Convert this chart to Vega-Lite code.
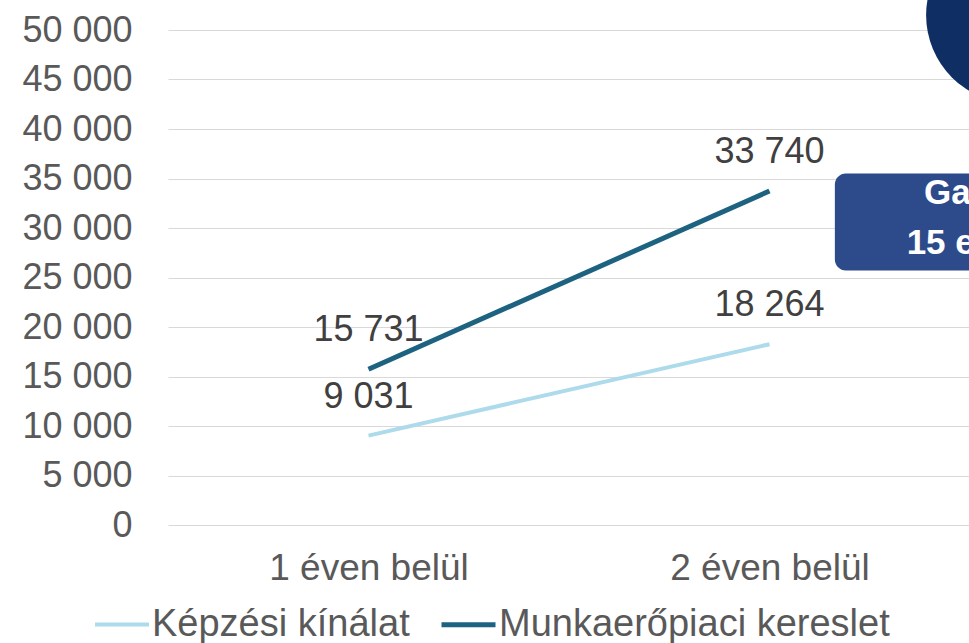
{
  "$schema": "https://vega.github.io/schema/vega-lite/v6.json",
  "width": 802,
  "height": 495,
  "autosize": {"type": "none"},
  "padding": {"left": 168, "top": 30, "right": 0, "bottom": 118},
  "background": "white",
  "config": {
    "view": {"stroke": null},
    "font": "Liberation Sans",
    "locale": {"number": {"decimal": ",", "thousands": " ", "grouping": [3], "currency": ["", " Ft"]}}
  },
  "data": {
    "values": [
      {"period": "1 éven belül", "series": "Képzési kínálat", "value": 9031},
      {"period": "2 éven belül", "series": "Képzési kínálat", "value": 18264},
      {"period": "1 éven belül", "series": "Munkaerőpiaci kereslet", "value": 15731},
      {"period": "2 éven belül", "series": "Munkaerőpiaci kereslet", "value": 33740}
    ]
  },
  "resolve": {"scale": {"x": "independent", "y": "independent"}},
  "layer": [
    {
      "data": {"values": [{"item": "decoration"}]},
      "layer": [
        {
          "mark": {"type": "rect", "cornerRadius": 11, "color": "#2d4a8b"},
          "encoding": {
            "x": {"datum": 2.163, "type": "quantitative", "scale": {"domain": [0.5, 2.5], "nice": false, "zero": false}, "axis": null},
            "x2": {"datum": 2.9},
            "y": {"datum": 35500, "type": "quantitative", "scale": {"domain": [0, 50000], "nice": false}, "axis": null},
            "y2": {"datum": 25700}
          }
        },
        {
          "mark": {"type": "point", "filled": true, "shape": "circle", "size": 30976, "color": "#0f2e63", "opacity": 1},
          "encoding": {
            "x": {"datum": 2.61, "type": "quantitative", "scale": {"domain": [0.5, 2.5], "nice": false, "zero": false}, "axis": null},
            "y": {"datum": 51500, "type": "quantitative", "scale": {"domain": [0, 50000], "nice": false}, "axis": null}
          }
        },
        {
          "mark": {"type": "text", "text": "Gap", "fontSize": 35, "fontWeight": "bold", "color": "white", "align": "center", "baseline": "middle"},
          "encoding": {
            "x": {"datum": 2.47, "type": "quantitative", "scale": {"domain": [0.5, 2.5], "nice": false, "zero": false}, "axis": null},
            "y": {"datum": 33500, "type": "quantitative", "scale": {"domain": [0, 50000], "nice": false}, "axis": null}
          }
        },
        {
          "mark": {"type": "text", "text": "15 ezer", "fontSize": 35, "fontWeight": "bold", "color": "white", "align": "center", "baseline": "middle"},
          "encoding": {
            "x": {"datum": 2.49, "type": "quantitative", "scale": {"domain": [0.5, 2.5], "nice": false, "zero": false}, "axis": null},
            "y": {"datum": 28500, "type": "quantitative", "scale": {"domain": [0, 50000], "nice": false}, "axis": null}
          }
        }
      ]
    },
    {
      "layer": [
        {
          "mark": {"type": "line", "strokeCap": "butt"},
          "encoding": {
            "x": {
              "field": "period", "type": "ordinal",
              "scale": {"type": "point", "padding": 0.5},
              "axis": {"title": null, "labelAngle": 0, "labelFontSize": 37, "labelColor": "#595959", "ticks": false, "domain": false, "labelPadding": 54, "labelBaseline": "alphabetic", "labelLimit": 0, "grid": false}
            },
            "y": {
              "field": "value", "type": "quantitative",
              "scale": {"domain": [0, 50000], "nice": false},
              "axis": {"title": null, "grid": true, "values": [0, 5000, 10000, 15000, 20000, 25000, 30000, 35000, 40000, 45000, 50000], "format": ",.0f", "labelFontSize": 36, "labelColor": "#595959", "ticks": false, "domain": false, "labelPadding": 36, "gridColor": "#d9d9d9", "gridWidth": 1.2}
            },
            "color": {
              "field": "series", "type": "nominal",
              "scale": {"domain": ["Képzési kínálat", "Munkaerőpiaci kereslet"], "range": ["#addbec", "#1d6381"]},
              "legend": {"title": null, "orient": "none", "legendX": -75, "legendY": 565, "direction": "horizontal", "symbolType": "stroke", "symbolSize": 2916, "symbolStrokeWidth": 4, "labelFontSize": 38, "labelColor": "#595959", "labelOffset": 1, "columnPadding": 21, "padding": 0, "labelLimit": 0}
            },
            "strokeWidth": {
              "field": "series", "type": "nominal",
              "scale": {"domain": ["Képzési kínálat", "Munkaerőpiaci kereslet"], "range": [4, 5]},
              "legend": null
            }
          }
        },
        {
          "mark": {"type": "text", "dy": -39, "fontSize": 36, "color": "#404040", "align": "center", "baseline": "middle"},
          "encoding": {
            "x": {"field": "period", "type": "ordinal", "scale": {"type": "point", "padding": 0.5}},
            "y": {"field": "value", "type": "quantitative"},
            "text": {"field": "value", "type": "quantitative", "format": ","}
          }
        }
      ]
    }
  ]
}
